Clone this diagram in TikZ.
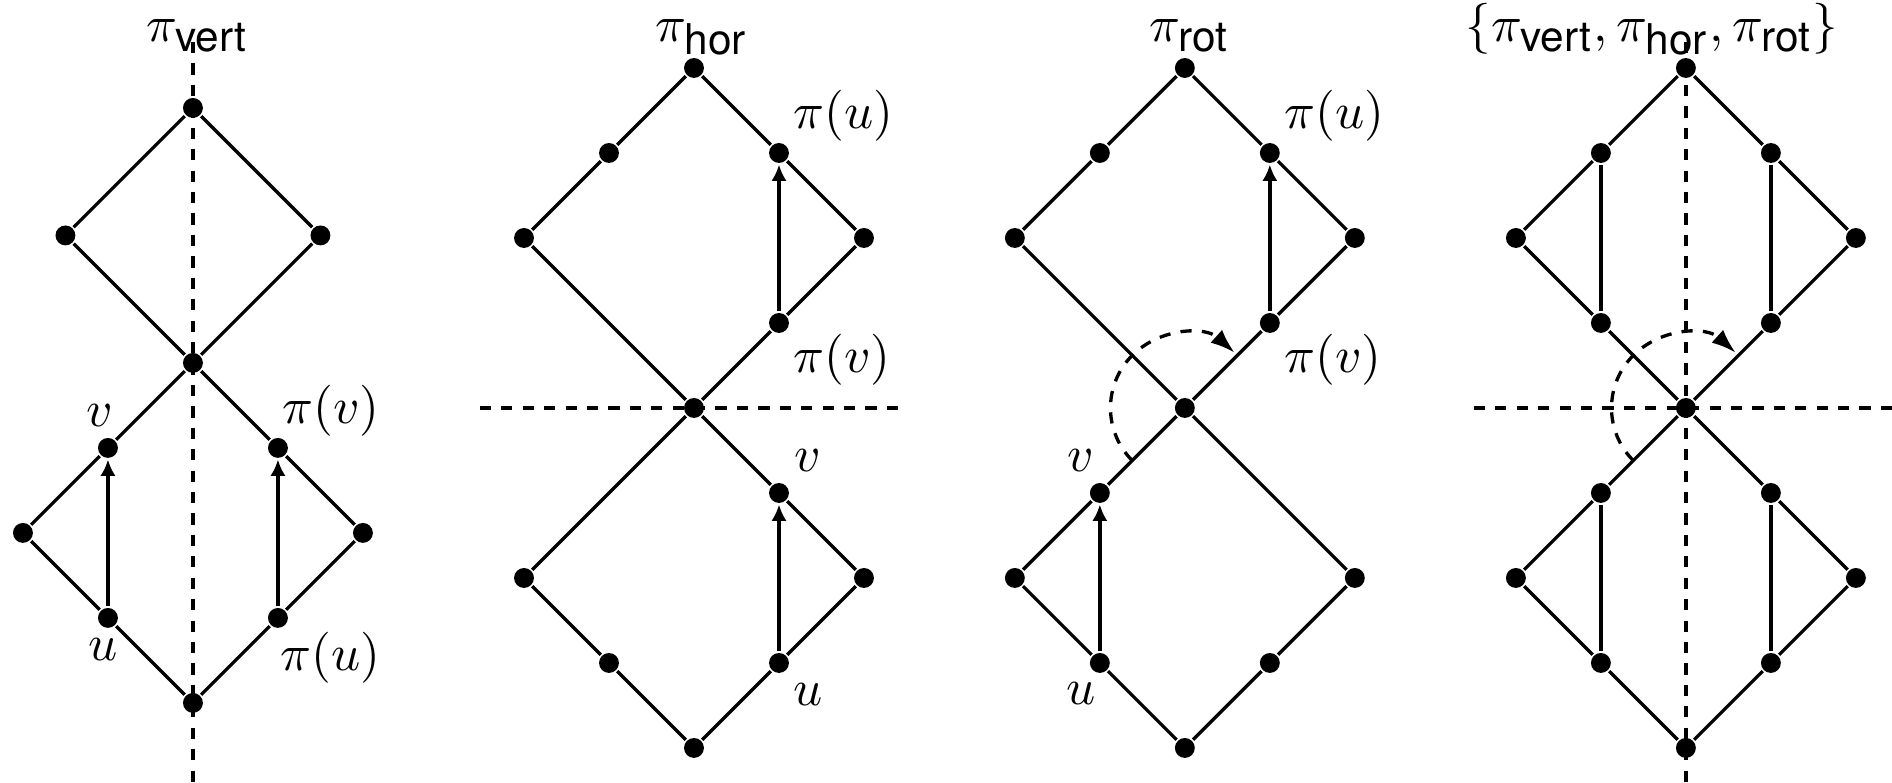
\documentclass[tikz,border=0pt]{standalone}
\usepackage{fontspec}
\usetikzlibrary{arrows.meta}
\newfontfamily\helv{TeX Gyre Heros}
\newcommand{\subsf}[1]{\mbox{\fontsize{8.3}{9.6}\selectfont\helv #1}}

\begin{document}
\begin{tikzpicture}[x=0.2928cm,y=0.2928cm,line width=0.65pt,
  vtx/.style={circle,fill=black,inner sep=0pt,minimum size=3.9pt},
  lab/.style={inner sep=0pt},
  symline/.style={dash pattern=on 2.2pt off 2pt},
  pointer/.style={-{Latex[length=3.2pt,width=3pt]}},
  rotarc/.style={dash pattern=on 2.2pt off 2pt,-{Latex[length=4.8pt,width=3.4pt]}}]
\useasboundingbox (0,0) rectangle (44.52,-18.42);

\node[anchor=base] (title1) at (4.65,-0.97) {$\pi_{\subsf{vert}}$};
\node[anchor=base] (title2) at (16.52,-0.97) {$\pi_{\subsf{hor}}$};
\node[anchor=base] (title3) at (28.0,-0.97) {$\pi_{\subsf{rot}}$};
\node[anchor=base] (title4) at (38.87,-0.97) {$\{\pi_{\subsf{vert}},\pi_{\subsf{hor}},\pi_{\subsf{rot}}\}$};

% vertical mirror
\begin{scope}[shift={(4.54,-8.54)}]
\draw[symline] (0,7.55)--(0,-9.88);
\node[vtx] (t1) at (0,6) {};
\node[vtx] (b1) at (-3,3) {};
\node[vtx] (c1) at (3,3) {};
\node[vtx] (o1) at (0,0) {};
\node[vtx] (v1) at (-2,-2) {};
\node[vtx] (pv1) at (2,-2) {};
\node[vtx] (l1) at (-4,-4) {};
\node[vtx] (r1) at (4,-4) {};
\node[vtx] (u1) at (-2,-6) {};
\node[vtx] (pu1) at (2,-6) {};
\node[vtx] (d1) at (0,-8) {};
\draw (t1)--(b1)--(o1)--(c1)--(t1);
\draw (o1)--(v1)--(l1)--(u1)--(d1)--(pu1)--(r1)--(pv1)--(o1);
\draw[pointer] (u1)--(v1);
\draw[pointer] (pu1)--(pv1);
\node[lab,anchor=south,xshift=-1.6pt,yshift=3.9pt] (lv1) at (v1) {$v$};
\node[lab,anchor=south west,xshift=0.6pt,yshift=2pt] (lpv1) at (pv1) {$\pi(v)$};
\node[lab,anchor=north,xshift=-1pt,yshift=-3.7pt] (lu1) at (u1) {$u$};
\node[lab,anchor=north west,xshift=0.2pt,yshift=-2.5pt] (lpu1) at (pu1) {$\pi(u)$};
\end{scope}

% horizontal mirror
\begin{scope}[shift={(16.33,-9.6)}]
\draw[symline] (-5.04,0)--(4.82,0);
\node[vtx] (t2) at (0,8) {};
\node[vtx] (ul2) at (-2,6) {};
\node[vtx] (l2) at (-4,4) {};
\node[vtx] (pu2) at (2,6) {};
\node[vtx] (r2) at (4,4) {};
\node[vtx] (pv2) at (2,2) {};
\node[vtx] (o2) at (0,0) {};
\node[vtx] (v2) at (2,-2) {};
\node[vtx] (ll2) at (-4,-4) {};
\node[vtx] (lr2) at (4,-4) {};
\node[vtx] (lm2) at (-2,-6) {};
\node[vtx] (u2) at (2,-6) {};
\node[vtx] (d2) at (0,-8) {};
\draw (o2)--(l2)--(ul2)--(t2)--(pu2)--(r2)--(pv2)--(o2);
\draw (o2)--(v2)--(lr2)--(u2)--(d2)--(lm2)--(ll2)--(o2);
\draw[pointer] (pv2)--(pu2);
\draw[pointer] (u2)--(v2);
\node[lab,anchor=south west,xshift=2.5pt,yshift=2pt] (lpu2) at (pu2) {$\pi(u)$};
\node[lab,anchor=north west,xshift=2.5pt,yshift=-1.8pt] (lpv2) at (pv2) {$\pi(v)$};
\node[lab,anchor=south west,xshift=2.8pt,yshift=3.9pt] (lv2) at (v2) {$v$};
\node[lab,anchor=north west,xshift=2.5pt,yshift=-3.8pt] (lu2) at (u2) {$u$};
\end{scope}

% rotation
\begin{scope}[shift={(27.88,-9.6)}]
\node[vtx] (t3) at (0,8) {};
\node[vtx] (ul3) at (-2,6) {};
\node[vtx] (l3) at (-4,4) {};
\node[vtx] (pu3) at (2,6) {};
\node[vtx] (r3) at (4,4) {};
\node[vtx] (pv3) at (2,2) {};
\node[vtx] (o3) at (0,0) {};
\node[vtx] (v3) at (-2,-2) {};
\node[vtx] (ll3) at (-4,-4) {};
\node[vtx] (lr3) at (4,-4) {};
\node[vtx] (u3) at (-2,-6) {};
\node[vtx] (rm3) at (2,-6) {};
\node[vtx] (d3) at (0,-8) {};
\draw (o3)--(l3)--(ul3)--(t3)--(pu3)--(r3)--(pv3)--(o3);
\draw (o3)--(v3)--(ll3)--(u3)--(d3)--(rm3)--(lr3)--(o3);
\draw[pointer] (pv3)--(pu3);
\draw[pointer] (u3)--(v3);
\draw[rotarc] (225:1.75) arc[start angle=225,end angle=48,radius=1.75];
\node[lab,anchor=south west,xshift=2.5pt,yshift=2pt] (lpu3) at (pu3) {$\pi(u)$};
\node[lab,anchor=north west,xshift=2.5pt,yshift=-1.8pt] (lpv3) at (pv3) {$\pi(v)$};
\node[lab,anchor=south east,xshift=-0.8pt,yshift=3.9pt] (lv3) at (v3) {$v$};
\node[lab,anchor=north east,xshift=-0.4pt,yshift=-3.5pt] (lu3) at (u3) {$u$};
\end{scope}

% all three
\begin{scope}[shift={(39.67,-9.6)}]
\draw[symline] (0,8.61)--(0,-8.82);
\draw[symline] (-4.99,0)--(4.85,0);
\node[vtx] (t4) at (0,8) {};
\node[vtx] (a4) at (-2,6) {};
\node[vtx] (l4) at (-4,4) {};
\node[vtx] (b4) at (-2,2) {};
\node[vtx] (c4) at (2,6) {};
\node[vtx] (r4) at (4,4) {};
\node[vtx] (e4) at (2,2) {};
\node[vtx] (o4) at (0,0) {};
\node[vtx] (f4) at (-2,-2) {};
\node[vtx] (ll4) at (-4,-4) {};
\node[vtx] (g4) at (-2,-6) {};
\node[vtx] (d4) at (0,-8) {};
\node[vtx] (h4) at (2,-6) {};
\node[vtx] (lr4) at (4,-4) {};
\node[vtx] (k4) at (2,-2) {};
\draw (o4)--(b4)--(l4)--(a4)--(t4)--(c4)--(r4)--(e4)--(o4);
\draw (o4)--(f4)--(ll4)--(g4)--(d4)--(h4)--(lr4)--(k4)--(o4);
\draw (a4)--(b4) (c4)--(e4) (f4)--(g4) (k4)--(h4);
\draw[rotarc] (225:1.75) arc[start angle=225,end angle=48,radius=1.75];
\end{scope}
\end{tikzpicture}
\end{document}
